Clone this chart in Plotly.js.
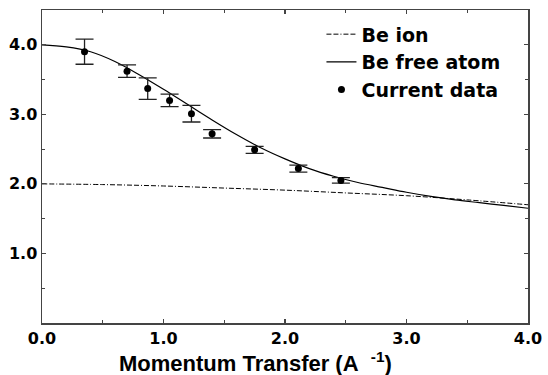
<!DOCTYPE html>
<html>
<head>
<meta charset="utf-8">
<script src="https://cdn.plot.ly/plotly-3.0.1.min.js"></script>
<style>html,body{margin:0;padding:0;background:#fff;}#chart{width:548px;height:375px;}</style>
</head>
<body>
<div id="chart"></div>
<script>
// Be ion curve
const ionX = [0.0, 0.5, 1.0, 1.5, 2.0, 2.5, 3.0, 3.5, 4.0];
const ionY = [2.00, 1.99, 1.97, 1.94, 1.91, 1.87, 1.83, 1.77, 1.70];

// Be free atom curve
const atomX = [0.0, 0.2, 0.4, 0.6, 0.8, 1.0, 1.2, 1.4, 1.6, 1.8, 2.0, 2.2, 2.4, 2.6, 2.8, 3.0, 3.2, 3.4, 3.6, 3.8, 4.0];
const atomY = [4.00, 3.97, 3.90, 3.76, 3.57, 3.36, 3.14, 2.92, 2.71, 2.52, 2.36, 2.22, 2.11, 2.02, 1.95, 1.88, 1.82, 1.77, 1.73, 1.69, 1.65];

// Current data with error bars
const dataX = [0.35, 0.70, 0.87, 1.05, 1.23, 1.40, 1.75, 2.11, 2.46];
const dataY = [3.90, 3.62, 3.37, 3.20, 3.01, 2.72, 2.49, 2.22, 2.05];
const dataErr = [0.18, 0.09, 0.155, 0.09, 0.12, 0.06, 0.05, 0.05, 0.04];

// tick labels
const xTickVals = [0, 1, 2, 3, 4];
const xTickText = ["0.0", "1.0", "2.0", "3.0", "4.0"];
const yTickVals = [1, 2, 3, 4];
const yTickText = ["1.0", "2.0", "3.0", "4.0"];
const xTitle = "Momentum Transfer (A";

const tickFont = {family: "DejaVu Sans", size: 16, color: "#000", weight: "bold"};
const axisColor = "#444";
const NB = "\u00A0";

const traces = [
  {x: ionX, y: ionY, mode: "lines", name: "<b>Be ion</b>", line: {color: "#000", width: 1, dash: "5px,2px,5px,2px,1px,2px", shape: "spline"}},
  {x: atomX, y: atomY, mode: "lines", name: "<b>Be free atom</b>", line: {color: "#000", width: 1.2, shape: "spline"}},
  {x: dataX, y: dataY, mode: "markers", name: "<b>Current data</b>",
   marker: {color: "#000", size: 7},
   error_y: {type: "data", array: dataErr, visible: true, color: "#222", thickness: 1.3, width: 9}}
];

const layout = {
  width: 548, height: 375,
  margin: {l: 42, r: 20, t: 10, b: 52},
  paper_bgcolor: "#fff", plot_bgcolor: "#fff",
  showlegend: true,
  legend: {x: 0.575, y: 0.983, xanchor: "left", yanchor: "top", bgcolor: "rgba(0,0,0,0)",
           font: {family: "DejaVu Sans", size: 19, color: "#000"}, tracegroupgap: 0},
  xaxis: {
    range: [0, 4], tickvals: xTickVals, ticktext: xTickText,
    ticks: "inside", ticklen: 4, tickwidth: 1.2, tickcolor: axisColor,
    minor: {dtick: 0.5, ticks: "inside", ticklen: 3, tickcolor: axisColor},
    showline: true, linecolor: axisColor, linewidth: 1.5, mirror: "ticks",
    showgrid: false, zeroline: false, tickfont: tickFont
  },
  yaxis: {
    range: [0, 4.5], tickvals: yTickVals, ticktext: yTickText,
    ticks: "inside", ticklen: 4, tickwidth: 1.2, tickcolor: axisColor,
    minor: {dtick: 0.5, ticks: "inside", ticklen: 3, tickcolor: axisColor},
    showline: true, linecolor: axisColor, linewidth: 1.5, mirror: "ticks",
    showgrid: false, zeroline: false, tickfont: tickFont
  },
  annotations: [{
    text: "<b>" + xTitle + NB + NB + "<sup>-1</sup>)</b>",
    xref: "paper", yref: "paper", x: 0.439, y: -0.125, xanchor: "center", yanchor: "middle",
    showarrow: false, font: {family: "Liberation Sans", size: 22, color: "#000"}
  }]
};

Plotly.newPlot("chart", traces, layout, {displayModeBar: false, staticPlot: true});
</script>
</body>
</html>
